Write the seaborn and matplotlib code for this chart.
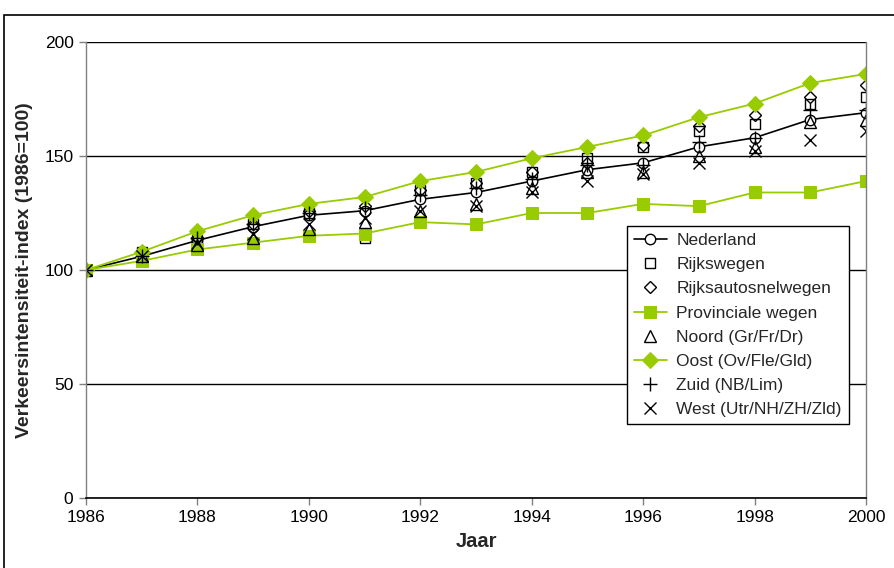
import matplotlib
matplotlib.use("Agg")
import matplotlib.pyplot as plt
import matplotlib.patches as mpatches
import seaborn as sns
import pandas as pd

years = list(range(1986, 2001))
nederland = [100, 106, 113, 119, 124, 126, 131, 134, 139, 144, 147, 154, 158, 166, 169]
rijkswegen = [100, 108, 113, 120, 125, 114, 135, 138, 143, 149, 154, 161, 164, 173, 176]
rijksautosnelwegen = [100, 107, 114, 120, 126, 128, 135, 138, 143, 147, 155, 163, 168, 176, 181]
provinciale = [100, 104, 109, 112, 115, 116, 121, 120, 125, 125, 129, 128, 134, 134, 139]
noord = [100, 106, 111, 114, 118, 121, 126, 129, 136, 143, 143, 150, 154, 165, 166]
oost = [100, 108, 117, 124, 129, 132, 139, 143, 149, 154, 159, 167, 173, 182, 186]
zuid = [100, 106, 114, 120, 125, 127, 133, 136, 140, 146, 146, 156, 158, 170, 170]
west = [100, 106, 112, 116, 120, 123, 126, 128, 134, 139, 142, 147, 152, 157, 161]

labels = ["Nederland", "Rijkswegen", "Rijksautosnelwegen", "Provinciale wegen",
          "Noord (Gr/Fr/Dr)", "Oost (Ov/Fle/Gld)", "Zuid (NB/Lim)", "West (Utr/NH/ZH/Zld)"]
series = [nederland, rijkswegen, rijksautosnelwegen, provinciale, noord, oost, zuid, west]

sns.set_theme(style="white")
plt.rcParams["font.family"] = ["Liberation Sans", "DejaVu Sans"]

GREEN = "#99CC00"
styles = {
    "Nederland": dict(color="black", marker="o", ms=7.5, mfc="white", mec="black", mew=1.0, lw=1.2, ls="-"),
    "Rijkswegen": dict(color="black", marker="s", ms=7.5, mfc="none", mec="black", mew=1.0, lw=0, ls=""),
    "Rijksautosnelwegen": dict(color="black", marker="D", ms=6.5, mfc="none", mec="black", mew=1.0, lw=0, ls=""),
    "Provinciale wegen": dict(color=GREEN, marker="s", ms=8.5, mfc=GREEN, mec=GREEN, lw=1.3, ls="-"),
    "Noord (Gr/Fr/Dr)": dict(color="black", marker="^", ms=8.5, mfc="none", mec="black", mew=1.0, lw=0, ls=""),
    "Oost (Ov/Fle/Gld)": dict(color=GREEN, marker="D", ms=8.5, mfc=GREEN, mec=GREEN, lw=1.3, ls="-"),
    "Zuid (NB/Lim)": dict(color="black", marker="+", ms=9.5, mec="black", mew=1.0, lw=0, ls=""),
    "West (Utr/NH/ZH/Zld)": dict(color="black", marker="x", ms=8.5, mec="black", mew=1.0, lw=0, ls=""),
}

fig = plt.figure(figsize=(8.94, 5.68), dpi=100)
ax = fig.add_axes([86 / 894, 1 - 498 / 568, 780 / 894, 456 / 568])

for name, vals in zip(labels, series):
    df = pd.DataFrame({"Jaar": years, "v": vals})
    st = dict(styles[name])
    sns.lineplot(data=df, x="Jaar", y="v", ax=ax, label=name, **st)

ax.set_xlim(1986, 2000)
ax.set_ylim(0, 200)
ax.set_xticks(range(1986, 2001, 2))
ax.set_yticks(range(0, 201, 50))
ax.yaxis.grid(True, color="black", lw=1.0)
ax.xaxis.grid(False)
ax.set_axisbelow(True)
for s in ["left", "right"]:
    ax.spines[s].set_visible(True)
    ax.spines[s].set_color("#808080")
    ax.spines[s].set_linewidth(1.0)
ax.spines["top"].set_visible(False)
ax.spines["bottom"].set_color("black")
ax.spines["bottom"].set_linewidth(1.2)
ax.tick_params(axis="both", direction="out", length=5, width=1, color="#808080",
               labelsize=12.5, labelcolor="black", left=True, bottom=True, pad=4)
ax.set_xlabel("Jaar", fontsize=14.5, fontweight="bold", labelpad=5)
ax.set_ylabel("Verkeersintensiteit-index (1986=100)", fontsize=14, fontweight="bold", labelpad=8)

leg = ax.legend(loc="upper left", bbox_to_anchor=(0.6936, 0.5965), frameon=True, fancybox=False,
                framealpha=1, edgecolor="black", fontsize=12.5, handlelength=1.9,
                handletextpad=0.55, labelspacing=0.52, borderpad=0.4, borderaxespad=0)
leg.get_frame().set_linewidth(1.0)

border = mpatches.Rectangle((4 / 894, -0.5), 2.0, 1.5 - 15 / 568, transform=fig.transFigure,
                            fill=False, edgecolor="black", lw=1.2, clip_on=False)
fig.patches.append(border)

fig.savefig("out.png", dpi=100)
